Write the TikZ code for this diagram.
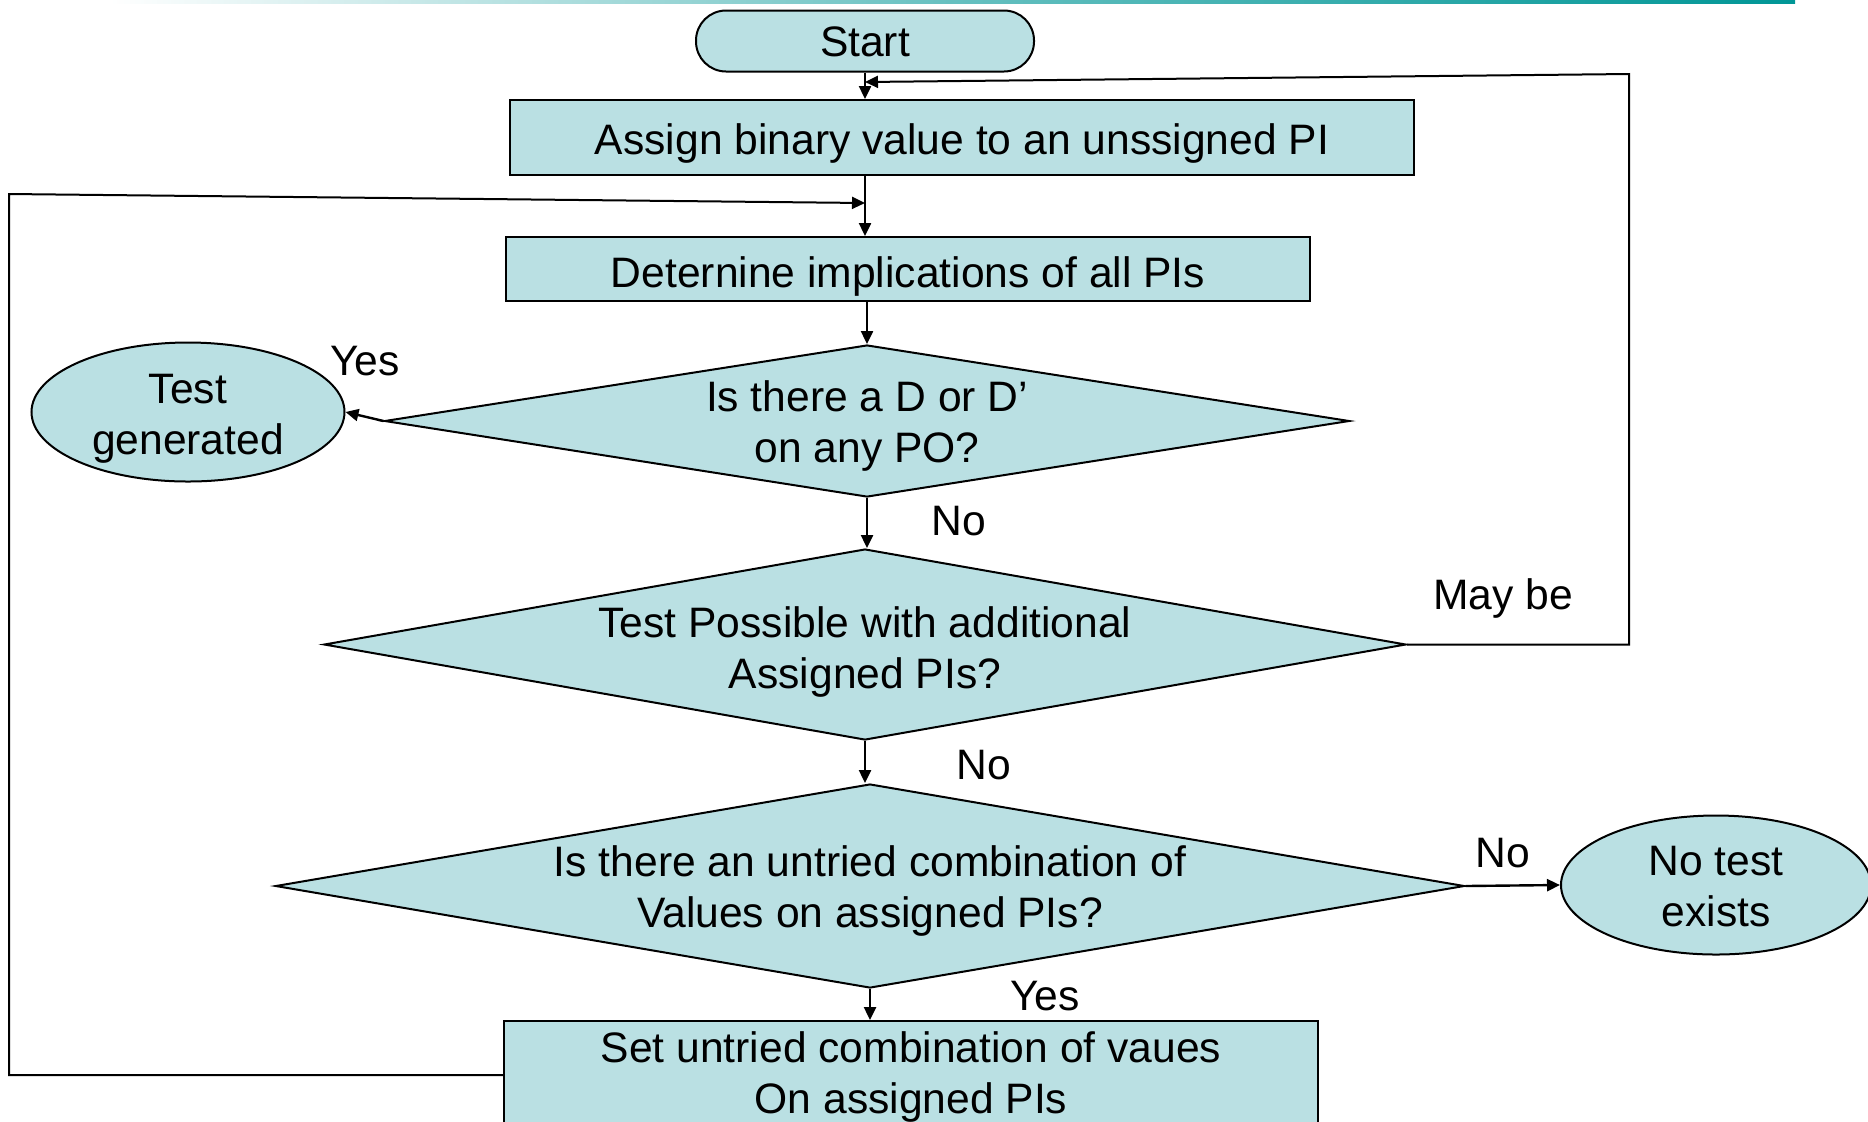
\documentclass[tikz,border=0pt]{standalone}
\usepackage{fontspec}
\setmainfont{Liberation Sans}
\usetikzlibrary{shapes.geometric,arrows.meta}
\definecolor{boxfill}{RGB}{186,224,227}
\definecolor{topline}{RGB}{0,150,150}
\begin{document}
\begin{tikzpicture}[x=0.5pt,y=-0.5pt,
  every node/.style={font=\fontsize{21.3}{25.5}\selectfont},
  base/.style={draw=black,line width=1pt,fill=boxfill,inner sep=0pt,align=center},
  box/.style={base,rectangle},
  dia/.style={base,diamond},
  oval/.style={base,ellipse},
  every label/.style={align=center,fill=none,draw=none,inner sep=0pt},
  arr/.style={line width=1.2pt,-{Triangle[length=6.5pt,width=6pt]}},
  loopline/.style={line width=1pt,-{Triangle[length=6.5pt,width=6pt]}},
  lbl/.style={inner sep=0pt}]
\useasboundingbox (0,0) rectangle (1868,1121);
\clip (0,0) rectangle (1868,1121);
\shade[left color=white,right color=topline,middle color=topline!60] (110,0) rectangle (1795,3);

\node[box,rounded corners=15pt,minimum width=169pt,minimum height=30.5pt,
  label={[yshift=-0.6pt]center:{Start}}] (start) at (865,41) {};
\node[box,minimum width=452pt,minimum height=37.5pt,
  label={[yshift=-3pt]center:{Assign binary value to an unssigned PI}}] (assign) at (962,137.5) {};
\node[box,minimum width=402pt,minimum height=32pt,
  label={[yshift=-3.5pt]center:{Deternine implications of all PIs}}] (det) at (908,269) {};
\node[dia,minimum width=482.5pt,minimum height=76pt,
  label={[yshift=-2.4pt]center:{Is there a D or D’\\on any PO?}}] (d1) at (867,421) {};
\node[oval,minimum width=156.5pt,minimum height=69.5pt,
  label={[yshift=-3.3pt]center:{Test\\generated}}] (tg) at (188,412) {};
\node[dia,minimum width=541pt,minimum height=95.5pt,
  label={[yshift=-3.8pt]center:{Test Possible with additional\\Assigned PIs?}}] (d2) at (865,644.5) {};
\node[dia,minimum width=594.5pt,minimum height=102pt,
  label={[yshift=-2.7pt]center:{Is there an untried combination of\\Values on assigned PIs?}}] (d3) at (870,886) {};
\node[oval,minimum width=155pt,minimum height=69.5pt,
  label={[yshift=-0.9pt]center:{No test\\exists}}] (nt) at (1716,885) {};
\node[box,minimum width=407pt,minimum height=54pt,
  label={[yshift=-0.9pt]center:{Set untried combination of vaues\\On assigned PIs}}] (bot) at (911,1075) {};

\coordinate (j1) at (865,203);
\coordinate (j2) at (865,82);

\draw[arr] (start.south) -- (start.south |- assign.north);
\draw[arr] (assign.south -| start.south) -- (det.north -| start.south);
\draw[arr] (det.south -| d1.north) -- (d1.north);
\draw[arr] (d1.west) -- (tg.east);
\draw[arr] (d1.south) -- (d1.south |- d2.north);
\draw[arr] (d2.south) -- (d2.south |- d3.north);
\draw[arr] (d3.south) -- (d3.south |- bot.north);
\draw[arr] (d3.east) -- (nt.west);
\draw[loopline] (bot.west) -- (9,1075) -- (9,194) -- (j1);
\draw[loopline] (d2.east) -- (1629,644.5) -- (1629,74) -- (j2);

\node[lbl] (yes1) at (365,361) {Yes};
\node[lbl] (no1) at (959,521) {No};
\node[lbl] (maybe) at (1503,598) {May be};
\node[lbl] (no2) at (984,765) {No};
\node[lbl] (no3) at (1503,853) {No};
\node[lbl] (yes2) at (1045,996) {Yes};
\end{tikzpicture}
\end{document}
